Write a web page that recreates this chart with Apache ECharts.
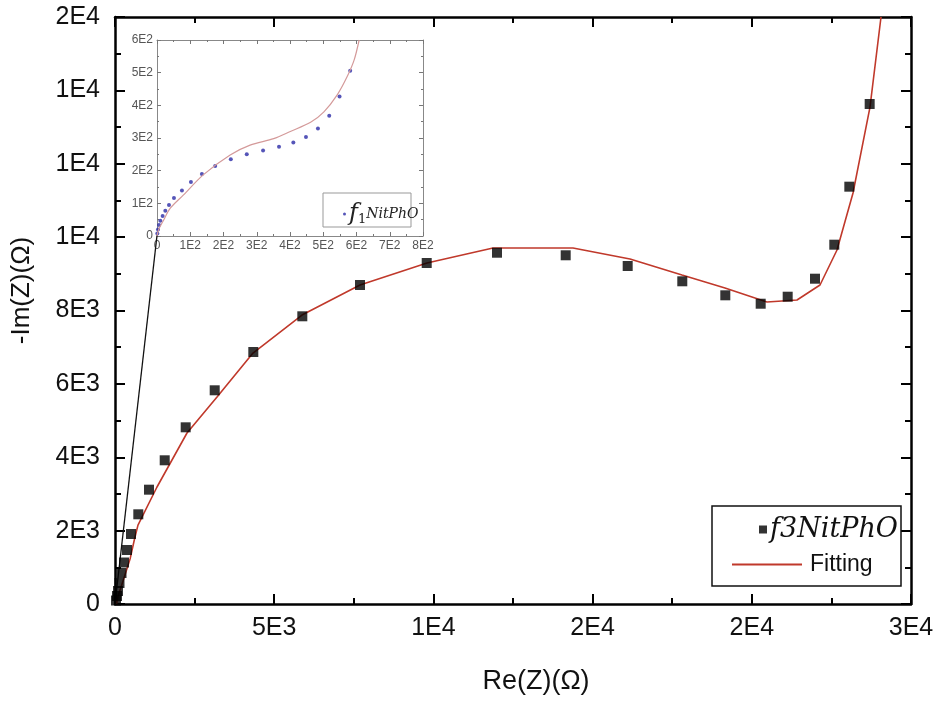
<!DOCTYPE html>
<html>
<head>
<meta charset="utf-8">
<script src="https://cdn.jsdelivr.net/npm/echarts@6/dist/echarts.min.js"></script>
<style>
  html, body { margin: 0; padding: 0; background: #fff; }
  #chart { width: 942px; height: 704px; }
</style>
</head>
<body>
<div id="chart"></div>
<script>
// 主图数据 f3NitPhO
var mainRe = [31, 63, 94, 141, 204, 283, 377, 503, 732, 1068, 1561, 2220, 3131, 4344, 5883, 7695, 9790, 11997, 14155, 16102, 17817, 19168, 20279, 21127, 21985, 22591, 23063, 23702];
var mainIm = [95, 218, 354, 572, 845, 1131, 1472, 1908, 2445, 3116, 3917, 4816, 5825, 6869, 7842, 8695, 9295, 9575, 9505, 9213, 8796, 8414, 8185, 8376, 8867, 9794, 11375, 13629];
// 拟合曲线
var fitRe = [50, 90, 280, 480, 620, 722, 1319, 2261, 3204, 4334, 5873, 7695, 9799, 11872, 14384, 16175, 17808, 19158, 20477, 21420, 22142, 22676, 23179, 23712, 24058];
var fitIm = [0, 200, 700, 1250, 1800, 2150, 3189, 4661, 5642, 6841, 7877, 8695, 9295, 9703, 9703, 9403, 8967, 8613, 8232, 8286, 8695, 9649, 11202, 13545, 16000];
// 原点到小图的连线
var connectorRe = [0, 1320];
var connectorIm = [0, 10050];
// 小图数据 f1NitPhO
var insetRe = [1, 3, 6, 10, 17, 25, 36, 51, 75, 102, 135, 175, 222, 270, 319, 367, 410, 448, 484, 518, 549, 581];
var insetIm = [8, 20, 34, 47, 61, 77, 95, 116, 139, 165, 190, 214, 235, 250, 262, 273, 286, 303, 329, 368, 427, 506];
var insetFitRe = [0, 5, 18, 40, 79, 139, 220, 280, 351, 401, 462, 502, 542, 572, 593, 608];
var insetFitIm = [0, 20, 45, 85, 125, 187, 248, 278, 298, 320, 348, 380, 432, 488, 539, 600];
// 刻度标签
var xTickLabels = ['0', '5E3', '1E4', '2E4', '2E4', '3E4'];
var yTickLabels = ['0', '2E3', '4E3', '6E3', '8E3', '1E4', '1E4', '1E4', '2E4'];
var insetXTickLabels = ['0', '1E2', '2E2', '3E2', '4E2', '5E2', '6E2', '7E2', '8E2'];
var insetYTickLabels = ['0', '1E2', '2E2', '3E2', '4E2', '5E2', '6E2'];

function zip(a, b) {
    var out = [];
    for (var i = 0; i < a.length; i++) {
        out.push([a[i], b[i]]);
    }
    return out;
}

function mainAxis(pos, max, step, labels, showLabel) {
    return {
        type: 'value', gridIndex: 0, position: pos,
        min: 0, max: max, interval: step,
        axisLine: { show: true, onZero: false, lineStyle: { color: '#000', width: 2.5 } },
        axisTick: { show: true, inside: true, length: 10, lineStyle: { color: '#000', width: 2 } },
        minorTick: { show: true, splitNumber: 2, length: 6, lineStyle: { color: '#000', width: 2 } },
        splitLine: { show: false },
        axisLabel: {
            show: showLabel, color: '#111', fontSize: 25, fontFamily: 'Liberation Sans',
            margin: pos == 'left' ? 15 : 12,
            formatter: function (v) { return labels[Math.round(v / step)]; }
        }
    };
}

function insetAxis(pos, max, labels, showLabel) {
    return {
        type: 'value', gridIndex: 1, position: pos,
        min: 0, max: max, interval: 100,
        axisLine: { show: true, onZero: false, lineStyle: { color: '#888', width: 1 } },
        axisTick: { show: true, inside: true, length: 4, lineStyle: { color: '#777', width: 1 } },
        minorTick: { show: true, splitNumber: 2, length: 2, lineStyle: { color: '#777', width: 1 } },
        splitLine: { show: false },
        axisLabel: {
            show: showLabel, color: '#555', fontSize: 12, fontFamily: 'Liberation Sans', margin: 4,
            formatter: function (v) { return labels[Math.round(v / 100)]; }
        }
    };
}

var xMain = mainAxis('bottom', 25000, 5000, xTickLabels, true);
xMain.name = 'Re(Z)(Ω)';
xMain.nameLocation = 'middle';
xMain.nameGap = 64;
xMain.nameTextStyle = { color: '#111', fontSize: 27, fontFamily: 'Liberation Sans', padding: [0, 0, 0, 46] };

var yMain = mainAxis('left', 16000, 2000, yTickLabels, true);
yMain.name = '-Im(Z)(Ω)';
yMain.nameLocation = 'middle';
yMain.nameGap = 80;
yMain.nameTextStyle = { color: '#111', fontSize: 26, fontFamily: 'Liberation Sans', padding: [0, 0, 0, 40] };

var chart = echarts.init(document.getElementById('chart'), null, { renderer: 'canvas' });

chart.setOption({
    backgroundColor: '#fff',
    animation: false,
    grid: [
        { left: 115, top: 17, width: 796, height: 587 },
        { left: 157, top: 40, width: 266, height: 196 }
    ],
    xAxis: [
        xMain,
        mainAxis('top', 25000, 5000, xTickLabels, false),
        insetAxis('bottom', 800, insetXTickLabels, true),
        insetAxis('top', 800, insetXTickLabels, false)
    ],
    yAxis: [
        yMain,
        mainAxis('right', 16000, 2000, yTickLabels, false),
        insetAxis('left', 600, insetYTickLabels, true),
        insetAxis('right', 600, insetYTickLabels, false)
    ],
    graphic: [
        { type: 'rect', z: 3, shape: { x: 712, y: 506, width: 189, height: 80 },
          style: { fill: '#fff', stroke: '#111', lineWidth: 1.5 } },
        { type: 'rect', z: 3, shape: { x: 323, y: 193, width: 88, height: 34 },
          style: { fill: '#fff', stroke: '#999', lineWidth: 1 } }
    ],
    legend: [
        {
            data: ['f3NitPhO'], left: 754, top: 511, z: 5,
            icon: 'rect', itemWidth: 8, itemHeight: 8, itemGap: 0,
            textStyle: { color: '#111', fontSize: 27, fontStyle: 'italic', fontFamily: 'DejaVu Serif', padding: [0, 0, 0, -2] }
        },
        {
            data: ['Fitting'], left: 727, top: 548, z: 5,
            icon: 'rect', itemWidth: 70, itemHeight: 2, itemGap: 0,
            textStyle: { color: '#111', fontSize: 23, fontFamily: 'Liberation Sans', padding: [0, 0, 0, 3] }
        },
        {
            data: ['f1NitPhO'], left: 338, top: 197, z: 5,
            icon: 'circle', itemWidth: 3, itemHeight: 3, itemGap: 0,
            formatter: function () { return '{f|f}{s|1}{n|NitPhO}'; },
            textStyle: {
                color: '#222', padding: [0, 0, 0, -2],
                rich: {
                    f: { fontSize: 24, fontStyle: 'italic', fontFamily: 'DejaVu Serif', color: '#222' },
                    s: { fontSize: 13, fontFamily: 'DejaVu Serif', color: '#222', padding: [12, 0, 0, 0] },
                    n: { fontSize: 14, fontStyle: 'italic', fontFamily: 'DejaVu Serif', color: '#222' }
                }
            }
        }
    ],
    series: [
        {
            name: 'Fitting', type: 'line', xAxisIndex: 0, yAxisIndex: 0,
            data: zip(fitRe, fitIm), showSymbol: false, symbol: 'none',
            lineStyle: { color: '#c0392b', width: 1.6 }, itemStyle: { color: '#c0392b' }
        },
        {
            name: 'f3NitPhO', type: 'scatter', xAxisIndex: 0, yAxisIndex: 0,
            data: zip(mainRe, mainIm), symbol: 'rect', symbolSize: 10,
            itemStyle: { color: '#000' }, z: 4
        },
        {
            name: 'connector', type: 'line', xAxisIndex: 0, yAxisIndex: 0,
            data: zip(connectorRe, connectorIm), showSymbol: false, symbol: 'none', silent: true,
            lineStyle: { color: '#111', width: 1.3 }
        },
        {
            name: 'insetFit', type: 'line', xAxisIndex: 2, yAxisIndex: 2,
            data: zip(insetFitRe, insetFitIm), showSymbol: false, symbol: 'none', smooth: 0.3,
            lineStyle: { color: '#d49a9a', width: 1.2 }
        },
        {
            name: 'f1NitPhO', type: 'scatter', xAxisIndex: 2, yAxisIndex: 2,
            data: zip(insetRe, insetIm), symbol: 'circle', symbolSize: 4,
            itemStyle: { color: '#2b2ba6' }
        }
    ]
});
</script>
</body>
</html>
